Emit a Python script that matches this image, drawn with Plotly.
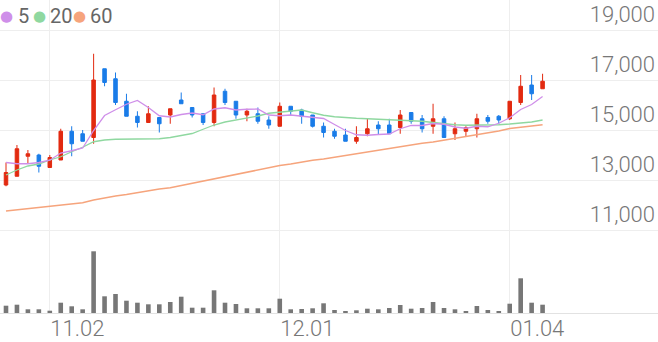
import plotly.graph_objects as go

dates = ["2020-10-27", "2020-10-28", "2020-10-29", "2020-10-30",
         "2020-11-02", "2020-11-03", "2020-11-04", "2020-11-05", "2020-11-06",
         "2020-11-09", "2020-11-10", "2020-11-11", "2020-11-12", "2020-11-13",
         "2020-11-16", "2020-11-17", "2020-11-18", "2020-11-19", "2020-11-20",
         "2020-11-23", "2020-11-24", "2020-11-25", "2020-11-26", "2020-11-27",
         "2020-11-30",
         "2020-12-01", "2020-12-02", "2020-12-03", "2020-12-04",
         "2020-12-07", "2020-12-08", "2020-12-09", "2020-12-10", "2020-12-11",
         "2020-12-14", "2020-12-15", "2020-12-16", "2020-12-17", "2020-12-18",
         "2020-12-21", "2020-12-22", "2020-12-23", "2020-12-24",
         "2020-12-28", "2020-12-29", "2020-12-30",
         "2021-01-04", "2021-01-05", "2021-01-06", "2021-01-07"]

opens = [12800, 13150, 13950, 14000, 13500, 13800, 14950, 14850, 14700, 17450,
         17050, 16150, 15550, 15300, 15500, 15600, 16200, 15900, 15650, 15300,
         16550, 16150, 15600, 15650, 15400, 15150, 15950, 15800, 15600, 15150,
         14950, 14800, 14550, 14850, 15200, 15200, 15100, 15700, 15450, 15150,
         15450, 14850, 14950, 15050, 15500, 15550, 15450, 16100, 16800, 16650]
highs = [13700, 14400, 14200, 14050, 14000, 15050, 15150, 15000, 18050, 17450,
         17300, 16450, 15750, 15950, 15500, 15850, 16500, 15900, 15650, 16700,
         16650, 16150, 15850, 15900, 15550, 16100, 15950, 15850, 15600, 15300,
         15050, 15050, 15150, 15450, 15350, 15450, 15800, 15700, 15600, 16050,
         15550, 15300, 15150, 15650, 15600, 15600, 16150, 17200, 17200, 17250]
lows = [12750, 13150, 13650, 13300, 13500, 13800, 13950, 14550, 14450, 16750,
        16000, 15550, 15100, 15300, 14900, 15250, 16050, 15500, 15200, 15150,
        16000, 15450, 15350, 15250, 15050, 15150, 15600, 15250, 15100, 14700,
        14650, 14550, 14450, 14750, 14800, 14850, 14850, 15250, 14900, 14850,
        14700, 14600, 14750, 14700, 15250, 15250, 15400, 16000, 16200, 16650]
closes = [13300, 14250, 14050, 13550, 13900, 14950, 14450, 14550, 17000, 16900,
          16100, 15550, 15300, 15650, 15250, 15850, 16050, 15600, 15300, 16400,
          16100, 15600, 15750, 15350, 15200, 15950, 15750, 15550, 15150, 14900,
          14750, 14550, 14700, 15050, 15050, 14850, 15600, 15350, 15050, 15450,
          14700, 15050, 15100, 15450, 15350, 15400, 16150, 16750, 16450, 16950]
volumes = [73, 83, 37, 37, 23, 103, 67, 37, 617, 167,
           190, 123, 103, 87, 87, 110, 163, 53, 53, 227,
           103, 90, 47, 47, 47, 143, 37, 40, 47, 97,
           30, 20, 27, 43, 37, 50, 80, 43, 50, 110,
           50, 37, 17, 70, 30, 20, 93, 347, 103, 83]

ma5 = [13700, 13650, 13650, 13700, 13790, 14080, 14170, 14280, 14980, 15580,
       15810, 16030, 16180, 15900, 15570, 15520, 15620, 15680, 15610, 15840,
       15890, 15800, 15830, 15840, 15600, 15570, 15600, 15560, 15520, 15460,
       15220, 14980, 14810, 14790, 14820, 14840, 15050, 15180, 15180, 15260,
       15230, 15120, 15070, 15150, 15130, 15270, 15490, 15820, 16020, 16340]
ma20 = [13200, 13400, 13560, 13640, 13800, 13930, 14130, 14310, 14530, 14600,
        14630, 14630, 14620, 14620, 14650, 14700, 14790, 14860, 15030, 15200,
        15320, 15400, 15450, 15560, 15670, 15720, 15770, 15800, 15690, 15590,
        15530, 15490, 15470, 15450, 15430, 15400, 15380, 15380, 15350, 15300,
        15240, 15210, 15190, 15190, 15190, 15210, 15240, 15270, 15320, 15400]
ma60 = [11760, 11810, 11860, 11910, 11960, 12000, 12050, 12090, 12200, 12290,
        12360, 12420, 12500, 12560, 12640, 12690, 12780, 12860, 12950, 13030,
        13130, 13220, 13310, 13400, 13490, 13580, 13640, 13720, 13790, 13840,
        13910, 13980, 14060, 14130, 14210, 14280, 14340, 14410, 14470, 14520,
        14590, 14660, 14740, 14810, 14890, 14960, 15060, 15110, 15160, 15210]

tick_dates = ["2020-11-02", "2020-12-01", "2021-01-04"]
tick_labels = ["11.02", "12.01", "01.04"]
price_ticks = [11000, 13000, 15000, 17000, 19000]
ma_names = ["5", "20", "60"]
ma_colors = ["#cf8fe9", "#8fd8a0", "#f6a47c"]

UP = "#e22a10"
DOWN = "#1a7ce8"

idx = list(range(len(dates)))
tick_pos = [dates.index(d) for d in tick_dates]

fig = go.Figure()

fig.add_trace(go.Bar(
    x=idx, y=volumes, yaxis="y2", width=0.42,
    marker=dict(color="#777777", line=dict(width=0)),
    showlegend=False, hoverinfo="skip"))

for vals, col, w in zip([ma60, ma20, ma5], ma_colors[::-1], [1.6, 1.3, 1.3]):
    fig.add_trace(go.Scatter(x=idx, y=vals, mode="lines",
                             line=dict(color=col, width=w),
                             showlegend=False, hoverinfo="skip"))

fig.add_trace(go.Candlestick(
    x=idx, open=opens, high=highs, low=lows, close=closes,
    increasing=dict(line=dict(color=UP, width=1), fillcolor=UP),
    decreasing=dict(line=dict(color=DOWN, width=1), fillcolor=DOWN),
    showlegend=False))

# legend (dot + label per moving average)
PLOT_W, PLOT_H = 658, 313
dot_px = [6, 39, 79]
label_px = [16, 48, 88]
legend_y = 1 - 16 / PLOT_H
annotations = []
for n, c, dx, lx in zip(ma_names, ma_colors, dot_px, label_px):
    annotations.append(dict(
        text="●", xref="paper", yref="paper", x=dx / PLOT_W, y=legend_y,
        xanchor="center", yanchor="middle", showarrow=False,
        font=dict(family="DejaVu Sans", size=15, color=c)))
    annotations.append(dict(
        text=n, xref="paper", yref="paper", x=lx / PLOT_W, y=legend_y,
        xanchor="left", yanchor="middle", showarrow=False,
        font=dict(family="Roboto", size=20, color="#666666")))

fig.update_layout(
    width=658, height=342,
    margin=dict(l=0, r=0, t=0, b=29),
    paper_bgcolor="white", plot_bgcolor="white",
    showlegend=False,
    boxgap=0.54,
    xaxis=dict(
        range=[-0.548, 59.54], tickmode="array", tickvals=tick_pos,
        ticktext=tick_labels, showgrid=True, gridcolor="#eeeeee", gridwidth=1,
        zeroline=False, showline=True, linecolor="#e2e2e2", linewidth=1,
        ticks="", ticklabelposition="outside right", automargin=False,
        ticklabelstandoff=-4,
        tickfont=dict(family="Roboto", size=22, color="#777777", weight=300),
        rangeslider=dict(visible=False), fixedrange=True),
    yaxis=dict(
        range=[7680, 20200], side="right", tickmode="array",
        tickvals=price_ticks, ticktext=[f"{v:,}" for v in price_ticks],
        showgrid=True, gridcolor="#eeeeee", gridwidth=1, zeroline=False,
        ticks="", ticklabelposition="inside top", automargin=False,
        tickfont=dict(family="Roboto", size=22, color="#777777", weight=300)),
    yaxis2=dict(range=[0, 3130], overlaying="y", visible=False),
    annotations=annotations,
)

fig.write_html("out.html")
